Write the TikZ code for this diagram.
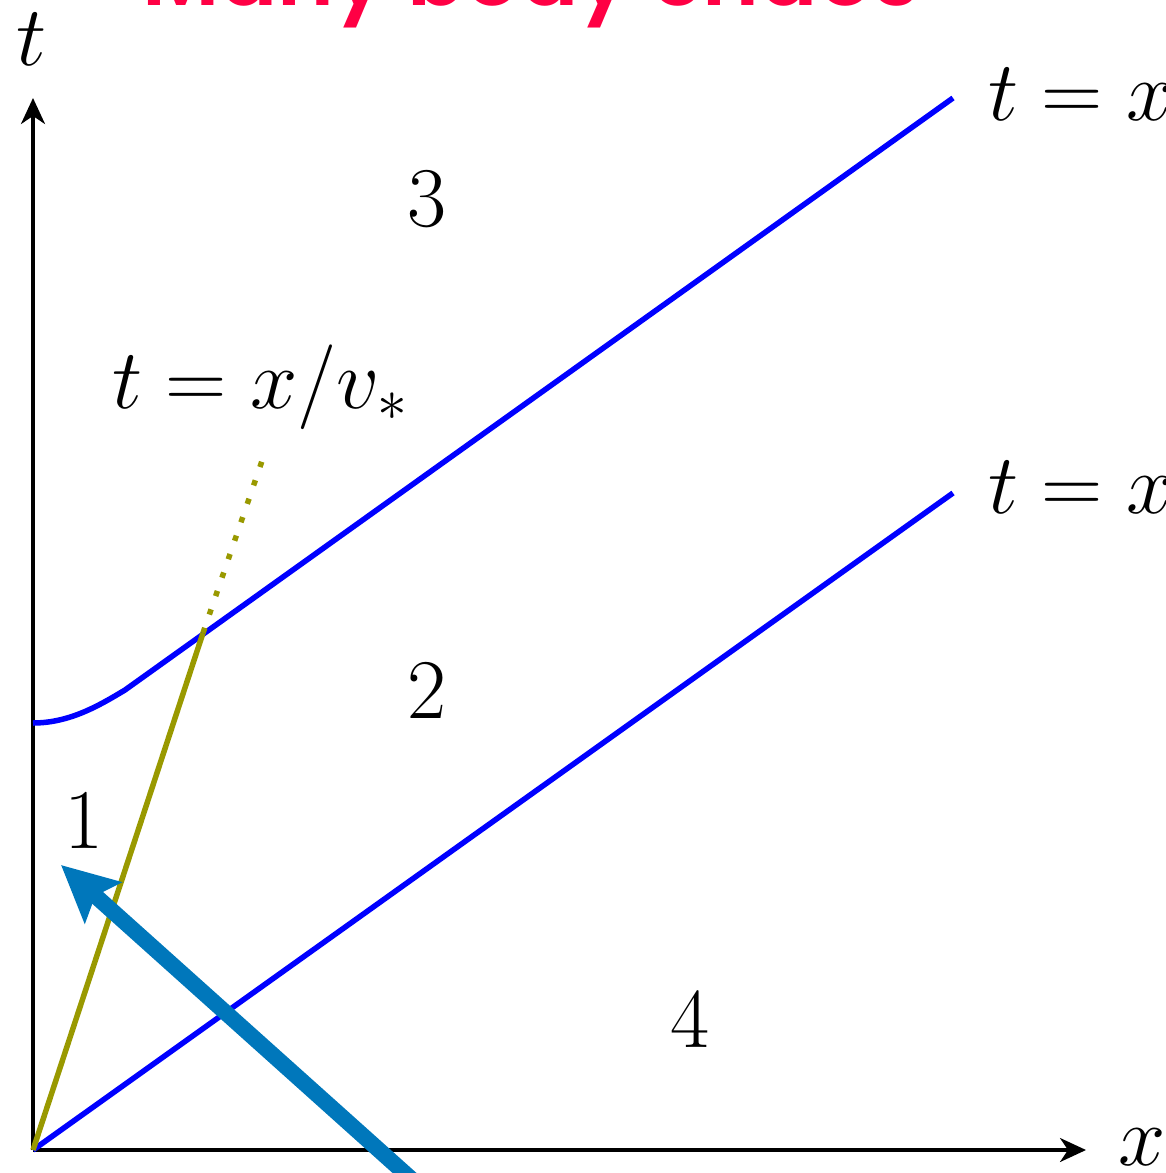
\RequirePackage{fix-cm}
\documentclass[tikz,border=0pt]{standalone}
\usepackage{fontspec}
\usetikzlibrary{arrows.meta}
\newfontfamily\titlefont{Poppins SemiBold}
\definecolor{myolive}{RGB}{153,153,0}
\definecolor{arrowblue}{RGB}{0,119,187}
\definecolor{titlered}{RGB}{255,0,68}
\begin{document}
\begin{tikzpicture}[x=1pt,y=-1pt,
  lbl/.style={font=\fontsize{85}{100}\selectfont, inner sep=0pt},
  axis/.style={line width=3.2pt, -{Stealth[length=26pt,width=24pt,inset=8pt]}},
  front/.style={blue, line width=5.5pt},
  olv/.style={myolive, line width=5.5pt},
  olvdot/.style={myolive, line width=5.5pt, dash pattern=on 5.5pt off 14pt},
  bigarrow/.style={arrowblue, line width=16pt, -{Stealth[length=56pt,width=54pt,inset=10pt]}}]
\useasboundingbox (0,0) rectangle (1165,1173);
\coordinate (O) at (33,1150);
\coordinate (xe) at (1086,1150);
\coordinate (te) at (33,98);
\coordinate (A) at (33,723);
\coordinate (B) at (125,690);
\coordinate (C) at (203,633);
\coordinate (D) at (953,98);
\coordinate (E) at (953,493);
\coordinate (F) at (263,458);
\coordinate (G) at (428,1194);
\coordinate (H) at (61,865);
% axes
\draw[axis] (O) -- (xe);
\draw[axis] (O) -- (te);
% fronts
\draw[front] (A) .. controls (70,723) and (100,705) .. (B) -- (D);
\draw[front] (O) -- (E);
% olive line
\draw[olv] (O) -- (C);
\draw[olvdot] (C) -- (F);
% big arrow
\draw[bigarrow] (G) -- (H);
% labels
\node[lbl, anchor=base] (n3) at (427,226) {$3$};
\node[lbl, anchor=base] (n2) at (427,718) {$2$};
\node[lbl, anchor=base] (n1) at (84,848) {$1$};
\node[lbl, anchor=base] (n4) at (690,1047) {$4$};
\node[lbl, anchor=base west] (lv) at (112,408) {$t=x/v_*$};
\node[lbl, anchor=base west] (lu) at (988,120) {$t=x/v_B$};
\node[lbl, anchor=base west] (ll) at (988,513) {$t=x/v_B$};
\node[lbl, anchor=base] (tl) at (32,65) {$t$};
\node[lbl, anchor=base west] (xl) at (1118,1165) {$x$};
\node[font=\titlefont\fontsize{86}{100}\selectfont, text=titlered, anchor=base, inner sep=0pt] (title) at (531,5) {Many body chaos};
\end{tikzpicture}
\end{document}
